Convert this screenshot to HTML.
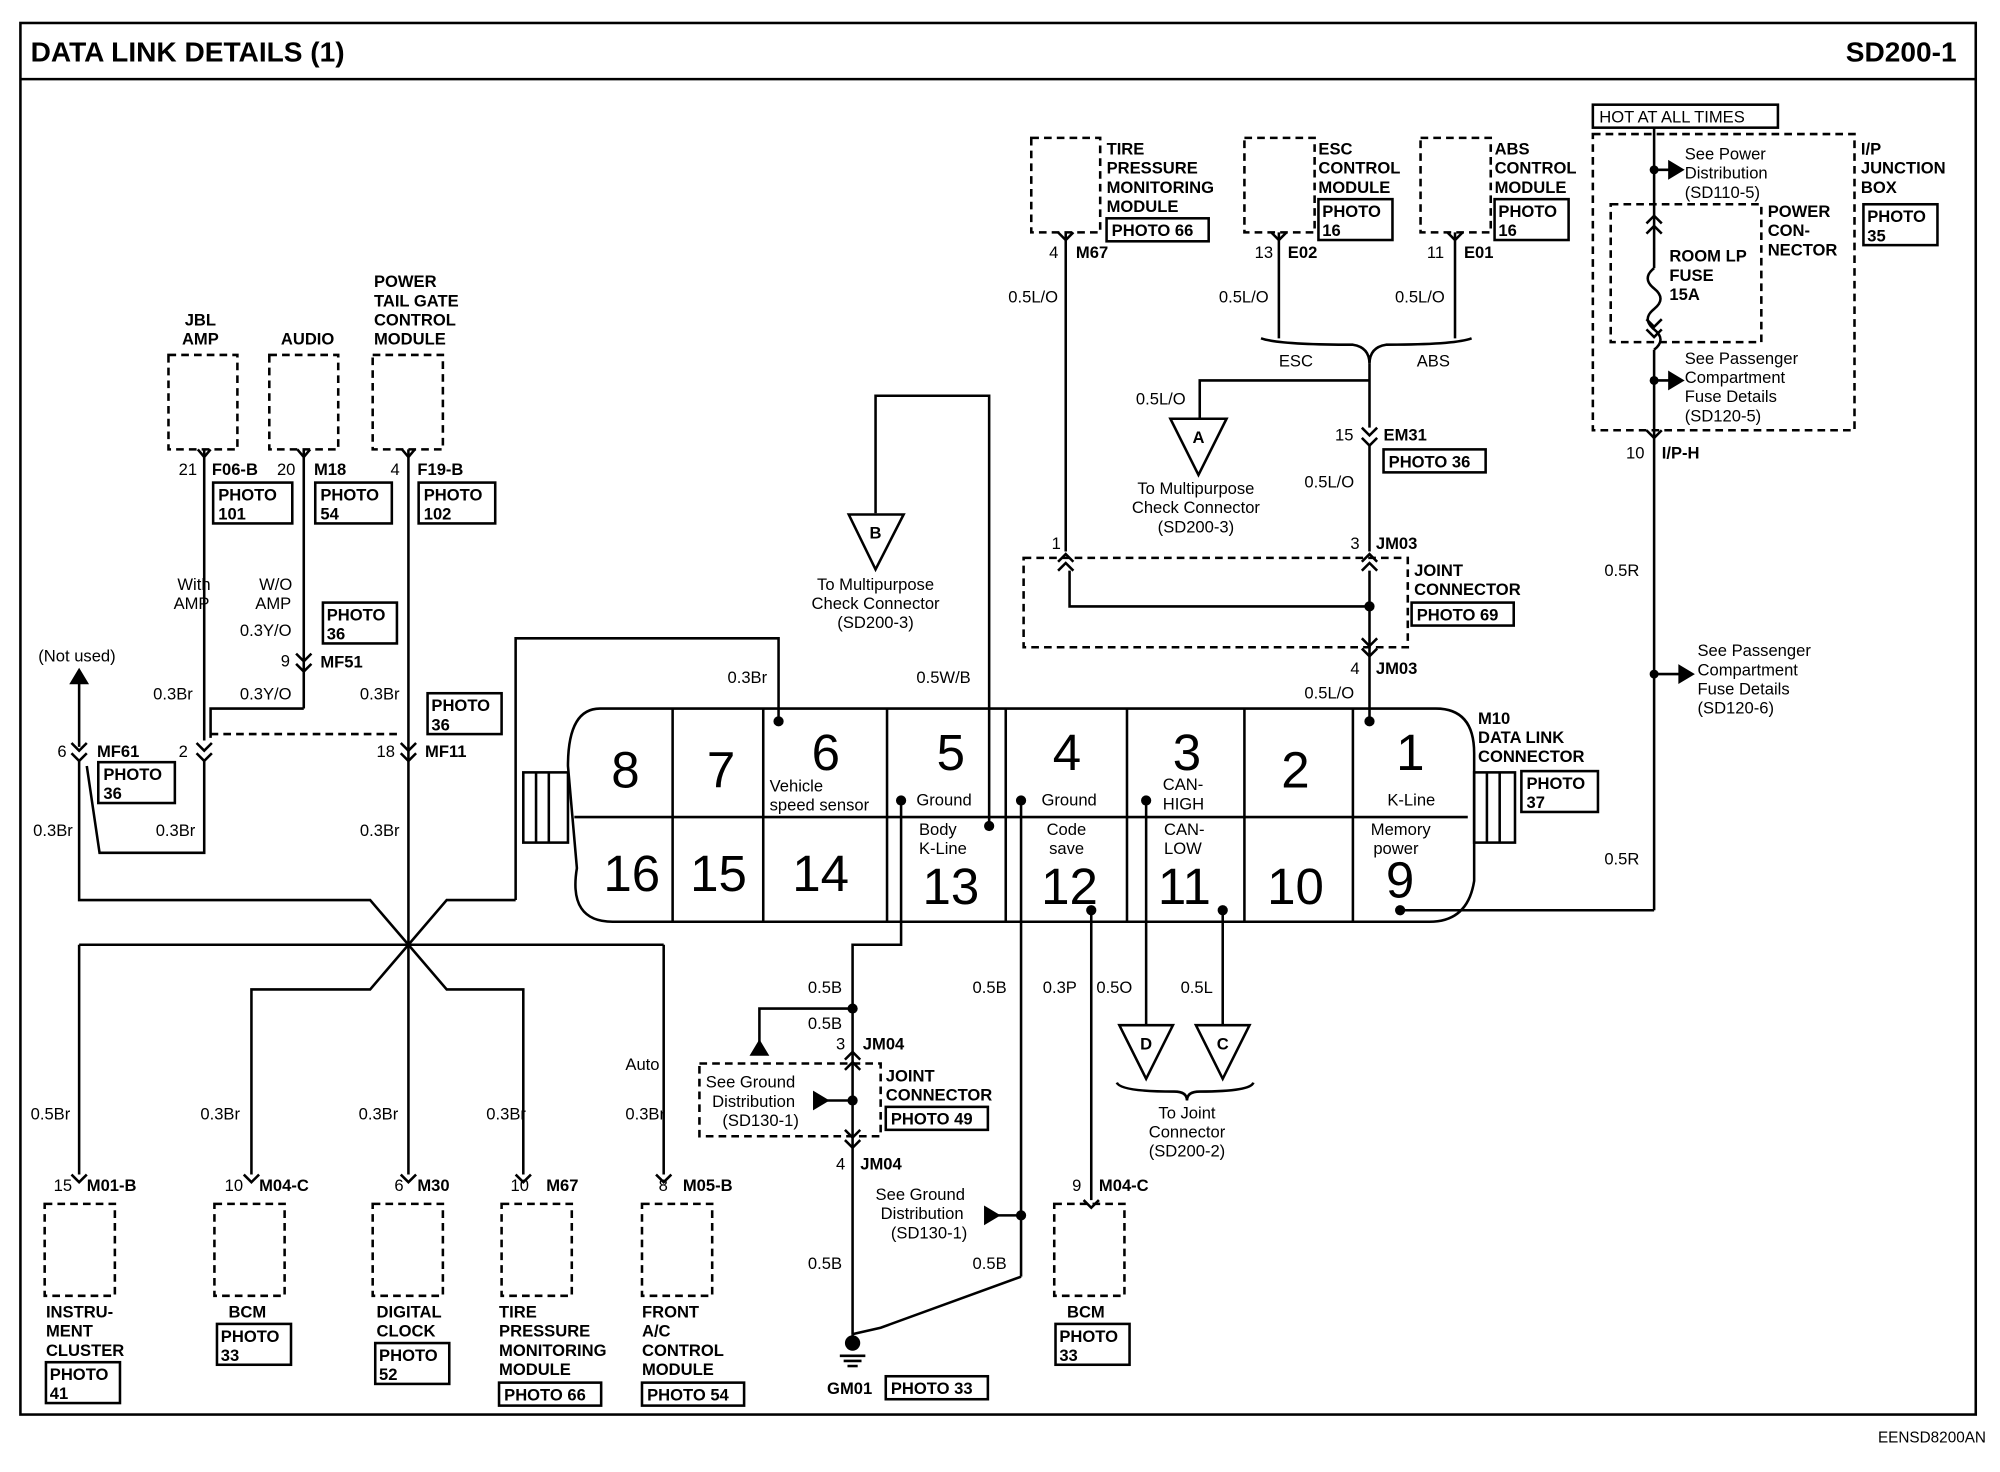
<!DOCTYPE html>
<html><head><meta charset="utf-8"><style>
html,body{margin:0;padding:0;background:#fff;}
svg{display:block}
text{font-family:"Liberation Sans",Arial,sans-serif;fill:#000}
.b{font-weight:bold;font-size:13px}
.r{font-size:13px}
.s{font-size:12px}
.n{font-size:40px}
line,polyline,path,rect,polygon{stroke:#000;fill:none;stroke-width:2}
.d{stroke-dasharray:6,4}
</style></head><body>
<svg width="2000" height="1472" viewBox="0 0 1567 1153" preserveAspectRatio="none">
<rect x="16" y="18" width="1532" height="1090" stroke-width="2"/>
<line x1="16" y1="62" x2="1548" y2="62"/>
<text x="24" y="48" style="font-size:22px;font-weight:bold">DATA LINK DETAILS (1)</text>
<text x="1533" y="48" text-anchor="end" style="font-size:22px;font-weight:bold">SD200-1</text>
<text x="1556" y="1130" text-anchor="end" class="s">EENSD8200AN</text>

<!-- top-left components -->
<rect class="d" x="132" y="278" width="54" height="74"/>
<rect class="d" x="211" y="278" width="54" height="74"/>
<rect class="d" x="292" y="278" width="55" height="74"/>
<text class="b" x="157" y="255" text-anchor="middle">JBL</text>
<text class="b" x="157" y="270" text-anchor="middle">AMP</text>
<text class="b" x="241" y="270" text-anchor="middle">AUDIO</text>
<text class="b" x="293" y="225">POWER</text><text class="b" x="293" y="240">TAIL GATE</text><text class="b" x="293" y="255">CONTROL</text><text class="b" x="293" y="270">MODULE</text>
<text class="r" x="140" y="372">21</text><text class="b" x="166" y="372">F06-B</text>
<text class="r" x="217" y="372">20</text><text class="b" x="246" y="372">M18</text>
<text class="r" x="306" y="372">4</text><text class="b" x="327" y="372">F19-B</text>
<rect x="167" y="378" width="62" height="32" stroke-width="1.5"/><text class="b" x="171" y="392">PHOTO</text><text class="b" x="171" y="407">101</text>
<rect x="247" y="378" width="60" height="32" stroke-width="1.5"/><text class="b" x="251" y="392">PHOTO</text><text class="b" x="251" y="407">54</text>
<rect x="328" y="378" width="60" height="32" stroke-width="1.5"/><text class="b" x="332" y="392">PHOTO</text><text class="b" x="332" y="407">102</text>
<polyline points="155,352 160,358 165,352"/><polyline points="233,352 238,358 243,352"/><polyline points="315,352 320,358 325,352"/>
<line x1="160" y1="352" x2="160" y2="580"/>
<line x1="238" y1="352" x2="238" y2="555"/>
<polyline points="238,555 165,555 165,578"/>
<line x1="320" y1="352" x2="320" y2="740"/>
<text class="r" x="152" y="462" text-anchor="middle">With</text><text class="r" x="136" y="477">AMP</text>
<text class="r" x="216" y="462" text-anchor="middle">W/O</text><text class="r" x="200" y="477">AMP</text>
<text class="r" x="188" y="498">0.3Y/O</text>
<rect x="253" y="472" width="58" height="32" stroke-width="1.5"/><text class="b" x="256" y="486">PHOTO</text><text class="b" x="256" y="501">36</text>
<text class="r" x="220" y="522">9</text><polyline points="232,512 238,518 244,512"/><polyline points="232,520 238,526 244,520"/><text class="b" x="251" y="523">MF51</text>
<text class="r" x="120" y="548">0.3Br</text><text class="r" x="188" y="548">0.3Y/O</text><text class="r" x="282" y="548">0.3Br</text>
<rect x="335" y="543" width="58" height="32" stroke-width="1.5"/><text class="b" x="338" y="557">PHOTO</text><text class="b" x="338" y="572">36</text>
<text class="r" x="30" y="518">(Not used)</text>
<line x1="62" y1="585" x2="62" y2="530"/><polygon points="56,535 62,525 68,535" style="fill:#000"/>
<line class="d" x1="165" y1="575" x2="315" y2="575"/>
<text class="r" x="45" y="593">6</text><polyline points="56,582 62,588 68,582"/><polyline points="56,590 62,596 68,590"/><text class="b" x="76" y="593">MF61</text>
<rect x="77" y="597" width="60" height="32" stroke-width="1.5"/><text class="b" x="81" y="611">PHOTO</text><text class="b" x="81" y="626">36</text>
<text class="r" x="140" y="593">2</text><polyline points="154,582 160,588 166,582"/><polyline points="154,590 160,596 166,590"/>
<text class="r" x="295" y="593">18</text><polyline points="314,582 320,588 326,582"/><polyline points="314,590 320,596 326,590"/><text class="b" x="333" y="593">MF11</text>
<text class="r" x="26" y="655">0.3Br</text><text class="r" x="122" y="655">0.3Br</text><text class="r" x="282" y="655">0.3Br</text>
<polyline points="62,596 62,705 290,705 320,740"/>
<polyline points="68,600 78,668 160,668 160,596"/>
<polyline points="404,705 350,705 320,740"/>
<polyline points="610,565 610,500 404,500 404,705"/>
<line x1="62" y1="740" x2="520" y2="740"/>
<line x1="62" y1="740" x2="62" y2="920"/>
<line x1="520" y1="740" x2="520" y2="920"/>
<polyline points="320,740 290,775 197,775 197,920"/>
<polyline points="320,740 350,775 410,775 410,920"/>
<line x1="320" y1="740" x2="320" y2="920"/>
<text class="r" x="490" y="838">Auto</text>
<text class="r" x="24" y="877">0.5Br</text><text class="r" x="157" y="877">0.3Br</text><text class="r" x="281" y="877">0.3Br</text><text class="r" x="381" y="877">0.3Br</text><text class="r" x="490" y="877">0.3Br</text>

<!-- bottom components -->
<g>
<polyline points="56,920 62,926 68,920"/><polyline points="191,920 197,926 203,920"/><polyline points="314,920 320,926 326,920"/><polyline points="404,920 410,926 416,920"/><polyline points="514,920 520,926 526,920"/>
<text class="r" x="42" y="933">15</text><text class="b" x="68" y="933">M01-B</text>
<text class="r" x="176" y="933">10</text><text class="b" x="203" y="933">M04-C</text>
<text class="r" x="309" y="933">6</text><text class="b" x="327" y="933">M30</text>
<text class="r" x="400" y="933">10</text><text class="b" x="428" y="933">M67</text>
<text class="r" x="516" y="933">8</text><text class="b" x="535" y="933">M05-B</text>
<rect class="d" x="35" y="943" width="55" height="72"/>
<rect class="d" x="168" y="943" width="55" height="72"/>
<rect class="d" x="292" y="943" width="55" height="72"/>
<rect class="d" x="393" y="943" width="55" height="72"/>
<rect class="d" x="503" y="943" width="55" height="72"/>
<text class="b" x="36" y="1032">INSTRU-</text><text class="b" x="36" y="1047">MENT</text><text class="b" x="36" y="1062">CLUSTER</text>
<rect x="36" y="1067" width="58" height="32" stroke-width="1.5"/><text class="b" x="39" y="1081">PHOTO</text><text class="b" x="39" y="1096">41</text>
<text class="b" x="179" y="1032">BCM</text>
<rect x="170" y="1037" width="58" height="32" stroke-width="1.5"/><text class="b" x="173" y="1051">PHOTO</text><text class="b" x="173" y="1066">33</text>
<text class="b" x="295" y="1032">DIGITAL</text><text class="b" x="295" y="1047">CLOCK</text>
<rect x="294" y="1052" width="58" height="32" stroke-width="1.5"/><text class="b" x="297" y="1066">PHOTO</text><text class="b" x="297" y="1081">52</text>
<text class="b" x="391" y="1032">TIRE</text><text class="b" x="391" y="1047">PRESSURE</text><text class="b" x="391" y="1062">MONITORING</text><text class="b" x="391" y="1077">MODULE</text>
<rect x="391" y="1083" width="80" height="18" stroke-width="1.5"/><text class="b" x="395" y="1097">PHOTO 66</text>
<text class="b" x="503" y="1032">FRONT</text><text class="b" x="503" y="1047">A/C</text><text class="b" x="503" y="1062">CONTROL</text><text class="b" x="503" y="1077">MODULE</text>
<rect x="503" y="1083" width="80" height="18" stroke-width="1.5"/><text class="b" x="507" y="1097">PHOTO 54</text>
</g>

<!-- data link connector -->
<path d="M470,555 L1125,555 Q1155,555 1155,590 L1155,690 Q1150,722 1120,722 L480,722 Q445,722 452,680 L445,600 Q445,555 470,555 Z"/>
<line x1="450" y1="640" x2="1150" y2="640"/>
<g stroke-width="1.5">
<line x1="527" y1="555" x2="527" y2="722"/><line x1="598" y1="555" x2="598" y2="722"/><line x1="695" y1="555" x2="695" y2="722"/><line x1="788" y1="555" x2="788" y2="722"/><line x1="883" y1="555" x2="883" y2="722"/><line x1="975" y1="555" x2="975" y2="722"/><line x1="1060" y1="555" x2="1060" y2="722"/>
</g>
<rect x="410" y="605" width="35" height="55"/><line x1="420" y1="605" x2="420" y2="660"/><line x1="430" y1="605" x2="430" y2="660"/>
<rect x="1155" y="605" width="32" height="55"/><line x1="1165" y1="605" x2="1165" y2="660"/><line x1="1175" y1="605" x2="1175" y2="660"/>
<g>
<text class="n" x="490" y="617" text-anchor="middle">8</text><text class="n" x="565" y="617" text-anchor="middle">7</text><text class="n" x="647" y="603" text-anchor="middle">6</text><text class="n" x="745" y="603" text-anchor="middle">5</text><text class="n" x="836" y="603" text-anchor="middle">4</text><text class="n" x="930" y="603" text-anchor="middle">3</text><text class="n" x="1015" y="617" text-anchor="middle">2</text><text class="n" x="1105" y="603" text-anchor="middle">1</text>
<text class="n" x="495" y="698" text-anchor="middle">16</text><text class="n" x="563" y="698" text-anchor="middle">15</text><text class="n" x="643" y="698" text-anchor="middle">14</text><text class="n" x="745" y="708" text-anchor="middle">13</text><text class="n" x="838" y="708" text-anchor="middle">12</text><text class="n" x="928" y="708" text-anchor="middle">11</text><text class="n" x="1015" y="708" text-anchor="middle">10</text><text class="n" x="1097" y="703" text-anchor="middle">9</text>
</g>
<text class="r" x="603" y="620">Vehicle</text><text class="r" x="603" y="635">speed sensor</text>
<text class="r" x="718" y="631">Ground</text><text class="r" x="816" y="631">Ground</text>
<text class="r" x="911" y="619">CAN-</text><text class="r" x="911" y="634">HIGH</text>
<text class="r" x="1087" y="631">K-Line</text>
<text class="r" x="720" y="654">Body</text><text class="r" x="720" y="669">K-Line</text>
<text class="r" x="820" y="654">Code</text><text class="r" x="822" y="669">save</text>
<text class="r" x="912" y="654">CAN-</text><text class="r" x="912" y="669">LOW</text>
<text class="r" x="1074" y="654">Memory</text><text class="r" x="1076" y="669">power</text>
<text class="b" x="1158" y="567">M10</text><text class="b" x="1158" y="582">DATA LINK</text><text class="b" x="1158" y="597">CONNECTOR</text>
<rect x="1192" y="604" width="60" height="32" stroke-width="1.5"/><text class="b" x="1196" y="618">PHOTO</text><text class="b" x="1196" y="633">37</text>

<!-- dots -->
<g>
<circle cx="610" cy="565" r="4" style="fill:#000"/><circle cx="775" cy="647" r="4" style="fill:#000"/><circle cx="706" cy="627" r="4" style="fill:#000"/><circle cx="800" cy="627" r="4" style="fill:#000"/><circle cx="898" cy="627" r="4" style="fill:#000"/><circle cx="855" cy="713" r="4" style="fill:#000"/><circle cx="958" cy="713" r="4" style="fill:#000"/><circle cx="1073" cy="565" r="4" style="fill:#000"/><circle cx="1097" cy="713" r="4" style="fill:#000"/>
<circle cx="668" cy="790" r="4" style="fill:#000"/><circle cx="800" cy="952" r="4" style="fill:#000"/><circle cx="1073" cy="475" r="4" style="fill:#000"/>
</g>
<text class="r" x="570" y="535">0.3Br</text><text class="r" x="718" y="535">0.5W/B</text>

<!-- B triangle -->
<polyline points="775,647 775,310 686,310 686,402"/>
<polygon points="665,403 708,403 686,446"/><text class="b" x="686" y="422" text-anchor="middle">B</text>
<text class="r" x="686" y="462" text-anchor="middle">To Multipurpose</text><text class="r" x="686" y="477" text-anchor="middle">Check Connector</text><text class="r" x="686" y="492" text-anchor="middle">(SD200-3)</text>

<!-- lower middle wires -->
<polyline points="706,627 706,740 668,740 668,1045"/>
<polyline points="668,790 595,790 595,818"/><polygon points="589,826 595,816 601,826" style="fill:#000"/>
<line x1="800" y1="627" x2="800" y2="1000"/><polyline points="800,1000 690,1040 668,1045"/>
<line x1="855" y1="713" x2="855" y2="940"/>
<line x1="898" y1="627" x2="898" y2="803"/><line x1="958" y1="713" x2="958" y2="803"/>
<text class="r" x="633" y="778">0.5B</text><text class="r" x="633" y="806">0.5B</text><text class="r" x="762" y="778">0.5B</text><text class="r" x="817" y="778">0.3P</text><text class="r" x="859" y="778">0.5O</text><text class="r" x="925" y="778">0.5L</text>
<polygon points="877,803 919,803 898,845"/><text class="b" x="898" y="822" text-anchor="middle">D</text>
<polygon points="937,803 979,803 958,845"/><text class="b" x="958" y="822" text-anchor="middle">C</text>
<path d="M875,848 Q878,855 920,855 Q930,855 930,862 Q930,855 940,855 Q980,855 982,848" stroke-width="1.5"/>
<text class="r" x="930" y="876" text-anchor="middle">To Joint</text><text class="r" x="930" y="891" text-anchor="middle">Connector</text><text class="r" x="930" y="906" text-anchor="middle">(SD200-2)</text>
<text class="r" x="655" y="822">3</text><polyline points="662,830 668,824 674,830"/><polyline points="662,838 668,832 674,838"/><text class="b" x="676" y="822">JM04</text>
<rect class="d" x="548" y="833" width="142" height="57"/>
<text class="r" x="553" y="852">See Ground</text><text class="r" x="558" y="867">Distribution</text><text class="r" x="566" y="882">(SD130-1)</text>
<polygon points="638,856 648,862 638,868" style="fill:#000"/><line x1="648" y1="862" x2="668" y2="862"/><circle cx="668" cy="862" r="4" style="fill:#000"/>
<text class="b" x="694" y="847">JOINT</text><text class="b" x="694" y="862">CONNECTOR</text>
<rect x="694" y="867" width="80" height="18" stroke-width="1.5"/><text class="b" x="698" y="881">PHOTO 49</text>
<polyline points="662,885 668,891 674,885"/><polyline points="662,893 668,899 674,893"/>
<text class="r" x="655" y="916">4</text><text class="b" x="674" y="916">JM04</text>
<text class="r" x="686" y="940">See Ground</text><text class="r" x="690" y="955">Distribution</text><text class="r" x="698" y="970">(SD130-1)</text>
<polygon points="772,946 782,952 772,958" style="fill:#000"/><line x1="782" y1="952" x2="800" y2="952"/>
<text class="r" x="633" y="994">0.5B</text><text class="r" x="762" y="994">0.5B</text>
<line x1="668" y1="1045" x2="668" y2="1055"/><circle cx="668" cy="1052" r="6"/><circle cx="668" cy="1052" r="2.5" style="fill:#000"/>
<line x1="658" y1="1062" x2="678" y2="1062"/><line x1="661" y1="1066" x2="675" y2="1066"/><line x1="664" y1="1070" x2="672" y2="1070"/>
<text class="b" x="648" y="1092">GM01</text><rect x="694" y="1078" width="80" height="18" stroke-width="1.5"/><text class="b" x="698" y="1092">PHOTO 33</text>
<polyline points="849,940 855,946 861,940"/>
<text class="r" x="840" y="933">9</text><text class="b" x="861" y="933">M04-C</text>
<rect class="d" x="826" y="943" width="55" height="72"/>
<text class="b" x="836" y="1032">BCM</text>
<rect x="827" y="1037" width="58" height="32" stroke-width="1.5"/><text class="b" x="830" y="1051">PHOTO</text><text class="b" x="830" y="1066">33</text>

<!-- top right modules -->
<rect class="d" x="808" y="108" width="54" height="74"/>
<rect class="d" x="975" y="108" width="55" height="74"/>
<rect class="d" x="1113" y="108" width="55" height="74"/>
<text class="b" x="867" y="121">TIRE</text><text class="b" x="867" y="136">PRESSURE</text><text class="b" x="867" y="151">MONITORING</text><text class="b" x="867" y="166">MODULE</text>
<rect x="867" y="171" width="80" height="18" stroke-width="1.5"/><text class="b" x="871" y="185">PHOTO 66</text>
<text class="b" x="1033" y="121">ESC</text><text class="b" x="1033" y="136">CONTROL</text><text class="b" x="1033" y="151">MODULE</text>
<rect x="1033" y="156" width="58" height="32" stroke-width="1.5"/><text class="b" x="1036" y="170">PHOTO</text><text class="b" x="1036" y="185">16</text>
<text class="b" x="1171" y="121">ABS</text><text class="b" x="1171" y="136">CONTROL</text><text class="b" x="1171" y="151">MODULE</text>
<rect x="1171" y="156" width="58" height="32" stroke-width="1.5"/><text class="b" x="1174" y="170">PHOTO</text><text class="b" x="1174" y="185">16</text>
<polyline points="829,182 835,188 841,182"/><polyline points="996,182 1002,188 1008,182"/><polyline points="1134,182 1140,188 1146,182"/>
<text class="r" x="822" y="202">4</text><text class="b" x="843" y="202">M67</text>
<text class="r" x="983" y="202">13</text><text class="b" x="1009" y="202">E02</text>
<text class="r" x="1118" y="202">11</text><text class="b" x="1147" y="202">E01</text>
<line x1="835" y1="182" x2="835" y2="432"/>
<line x1="1002" y1="182" x2="1002" y2="265"/><line x1="1140" y1="182" x2="1140" y2="265"/>
<text class="r" x="790" y="237">0.5L/O</text><text class="r" x="955" y="237">0.5L/O</text><text class="r" x="1093" y="237">0.5L/O</text>
<path d="M988,265 Q1002,270 1060,270 Q1073,272 1073,285 Q1073,272 1086,270 Q1140,270 1153,265" stroke-width="1.5"/>
<text class="r" x="1002" y="287">ESC</text><text class="r" x="1110" y="287">ABS</text>
<line x1="1073" y1="285" x2="1073" y2="335"/>
<polyline points="1073,298 940,298 940,328"/>
<text class="r" x="890" y="317">0.5L/O</text>
<polygon points="917,328 961,328 939,372"/><text class="b" x="939" y="347" text-anchor="middle">A</text>
<text class="r" x="937" y="387" text-anchor="middle">To Multipurpose</text><text class="r" x="937" y="402" text-anchor="middle">Check Connector</text><text class="r" x="937" y="417" text-anchor="middle">(SD200-3)</text>
<polyline points="1067,335 1073,341 1079,335"/><polyline points="1067,343 1073,349 1079,343"/>
<text class="r" x="1046" y="345">15</text><text class="b" x="1084" y="345">EM31</text>
<rect x="1084" y="352" width="80" height="18" stroke-width="1.5"/><text class="b" x="1088" y="366">PHOTO 36</text>
<text class="r" x="1022" y="382">0.5L/O</text>
<line x1="1073" y1="349" x2="1073" y2="432"/>
<text class="r" x="824" y="430">1</text><text class="r" x="1058" y="430">3</text><text class="b" x="1078" y="430">JM03</text>
<polyline points="829,440 835,434 841,440"/><polyline points="829,447 835,441 841,447"/>
<polyline points="1067,440 1073,434 1079,440"/><polyline points="1067,447 1073,441 1079,447"/>
<rect class="d" x="802" y="437" width="301" height="70"/>
<polyline points="838,447 838,475 1073,475"/>
<line x1="1073" y1="447" x2="1073" y2="565"/>
<text class="b" x="1108" y="451">JOINT</text><text class="b" x="1108" y="466">CONNECTOR</text>
<rect x="1106" y="472" width="80" height="18" stroke-width="1.5"/><text class="b" x="1110" y="486">PHOTO 69</text>
<polyline points="1067,500 1073,506 1079,500"/><polyline points="1067,508 1073,514 1079,508"/>
<text class="r" x="1058" y="528">4</text><text class="b" x="1078" y="528">JM03</text>
<text class="r" x="1022" y="547">0.5L/O</text>

<!-- I/P junction -->
<rect x="1248" y="82" width="145" height="18" stroke-width="1.5"/><text class="r" x="1253" y="96">HOT AT ALL TIMES</text>
<rect class="d" x="1248" y="105" width="205" height="232"/>
<rect class="d" x="1262" y="160" width="118" height="108"/>
<line x1="1296" y1="100" x2="1296" y2="195"/>
<path d="M1296,210 q-10,8 0,16 q10,8 0,16 q-10,8 0,16 q10,8 0,16" stroke-width="1.5"/>
<polyline points="1290,175 1296,169 1302,175"/><polyline points="1290,183 1296,177 1302,183"/>
<polyline points="1290,250 1296,256 1302,250"/><polyline points="1290,258 1296,264 1302,258"/>
<line x1="1296" y1="195" x2="1296" y2="210"/><line x1="1296" y1="274" x2="1296" y2="713"/>
<line x1="1296" y1="133" x2="1310" y2="133"/><polygon points="1308,127 1318,133 1308,139" style="fill:#000"/><circle cx="1296" cy="133" r="3.5" style="fill:#000"/>
<text class="r" x="1320" y="125">See Power</text><text class="r" x="1320" y="140">Distribution</text><text class="r" x="1320" y="155">(SD110-5)</text>
<text class="b" x="1308" y="205">ROOM LP</text><text class="b" x="1308" y="220">FUSE</text><text class="b" x="1308" y="235">15A</text>
<text class="b" x="1385" y="170">POWER</text><text class="b" x="1385" y="185">CON-</text><text class="b" x="1385" y="200">NECTOR</text>
<text class="b" x="1458" y="121">I/P</text><text class="b" x="1458" y="136">JUNCTION</text><text class="b" x="1458" y="151">BOX</text>
<rect x="1460" y="160" width="58" height="32" stroke-width="1.5"/><text class="b" x="1463" y="174">PHOTO</text><text class="b" x="1463" y="189">35</text>
<line x1="1296" y1="298" x2="1310" y2="298"/><polygon points="1308,292 1318,298 1308,304" style="fill:#000"/><circle cx="1296" cy="298" r="3.5" style="fill:#000"/>
<text class="r" x="1320" y="285">See Passenger</text><text class="r" x="1320" y="300">Compartment</text><text class="r" x="1320" y="315">Fuse Details</text><text class="r" x="1320" y="330">(SD120-5)</text>
<polyline points="1290,337 1296,343 1302,337"/>
<text class="r" x="1274" y="359">10</text><text class="b" x="1302" y="359">I/P-H</text>
<text class="r" x="1257" y="451">0.5R</text><text class="r" x="1257" y="677">0.5R</text>
<line x1="1296" y1="528" x2="1318" y2="528"/><polygon points="1316,522 1326,528 1316,534" style="fill:#000"/><circle cx="1296" cy="528" r="3.5" style="fill:#000"/>
<text class="r" x="1330" y="514">See Passenger</text><text class="r" x="1330" y="529">Compartment</text><text class="r" x="1330" y="544">Fuse Details</text><text class="r" x="1330" y="559">(SD120-6)</text>
<polyline points="1097,713 1296,713"/>
</svg>
</body></html>
